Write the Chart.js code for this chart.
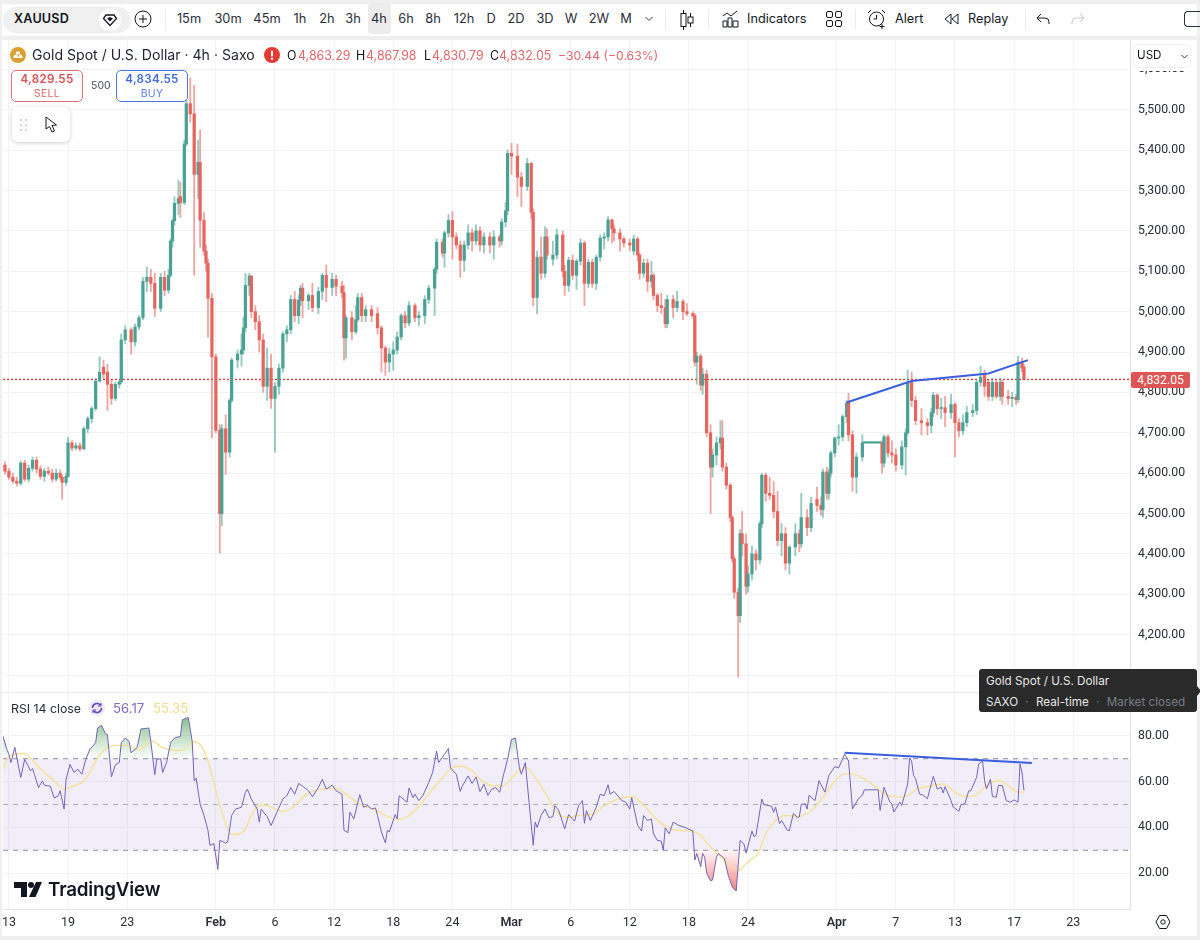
<!DOCTYPE html>
<html><head><meta charset="utf-8">
<script src="https://cdn.jsdelivr.net/npm/chart.js@4"></script>
<style>
html,body{margin:0;padding:0;background:#fff;width:1200px;height:940px;overflow:hidden;font-family:Inter,"Noto Sans",sans-serif;color:#131722}
.a{position:absolute;white-space:nowrap}
.tf{position:absolute;top:11px;font-size:12.8px;line-height:16px;transform:translateX(-50%);color:#2a2e39}
.bar{position:absolute;background:#efefef}
.sep{position:absolute;top:9px;height:21px;width:1px;background:#ececec}
canvas{position:absolute;display:block}
.val{color:#e0696b}
svg{position:absolute;overflow:visible}
</style></head><body>
<canvas id="main" width="1197" height="652" style="left:0;top:40px"></canvas>
<canvas id="rsi" width="1197" height="243" style="left:0;top:693px"></canvas>

<div class="bar" style="left:0;top:0;width:1200px;height:4px"></div>
<div class="bar" style="left:0;top:36px;width:1200px;height:4px"></div>
<div class="bar" style="left:0;top:0;width:2px;height:940px"></div>
<div class="bar" style="left:1197px;top:0;width:3px;height:940px"></div>
<div class="bar" style="left:0;top:936px;width:1200px;height:4px"></div>
<div class="a" style="left:0;top:692px;width:1130px;height:1px;background:#e6e8ee"></div>
<div class="a" style="left:1131px;top:40px;width:66px;height:31px;background:#fff"></div>

<div class="a" style="left:3px;top:7px;width:128px;height:26px;border-radius:13px;background:#f0f0f0"></div>
<div class="a" style="left:14px;top:11px;font-size:12.6px;line-height:16px;font-weight:600;letter-spacing:.2px">XAUUSD</div>
<div class="a" style="left:99px;top:9px;width:22px;height:22px;border-radius:11px;background:#fff"></div>
<svg style="left:103px;top:13px" width="14" height="14" viewBox="0 0 14 14"><path d="M3 2h8l2.5 3.5L7 12.5.5 5.5z" fill="none" stroke="#131722" stroke-width="1.3"/><path d="M4 5.5l3 3 3-3-3-1.5z" fill="#131722"/></svg>
<svg style="left:134px;top:10px" width="18" height="18" viewBox="0 0 18 18"><circle cx="9" cy="9" r="8" fill="none" stroke="#131722"/><path d="M9 5v8M5 9h8" stroke="#131722"/></svg>
<div class="sep" style="left:165px"></div>
<div class="a" style="left:368px;top:3px;width:23px;height:31px;border-radius:4px;background:#ececec"></div>
<div class="tf" style="left:189px">15m</div><div class="tf" style="left:228px">30m</div><div class="tf" style="left:267px">45m</div>
<div class="tf" style="left:300px">1h</div><div class="tf" style="left:327px">2h</div><div class="tf" style="left:353px">3h</div>
<div class="tf" style="left:379px">4h</div><div class="tf" style="left:406px">6h</div><div class="tf" style="left:433px">8h</div>
<div class="tf" style="left:464px">12h</div><div class="tf" style="left:491px">D</div><div class="tf" style="left:516px">2D</div>
<div class="tf" style="left:545px">3D</div><div class="tf" style="left:571px">W</div><div class="tf" style="left:599px">2W</div>
<div class="tf" style="left:626px">M</div>
<svg style="left:645px;top:16px" width="8" height="6" viewBox="0 0 8 6"><path d="M.5 1L4 4.5 7.5 1" fill="none" stroke="#444"/></svg>
<div class="sep" style="left:665px"></div>
<svg style="left:680px;top:10px" width="14" height="20" viewBox="0 0 14 20"><path d="M3.5 0v20M10.5 3v14" stroke="#131722"/><rect x="1" y="3.5" width="5" height="13" fill="#fff" stroke="#131722"/><rect x="8" y="7" width="5" height="6" fill="#fff" stroke="#131722"/></svg>
<div class="sep" style="left:708px"></div>
<svg style="left:722px;top:10px" width="18" height="18" viewBox="0 0 18 18"><path d="M1 6l4-3 4 3 6-5" fill="none" stroke="#131722"/><path d="M1 11h4v6H1zM6 8h4v9H6zM11 11h5v6h-5z" fill="none" stroke="#131722"/></svg>
<div class="a" style="left:747px;top:11px;font-size:12.7px;line-height:16px">Indicators</div>
<svg style="left:826px;top:11px" width="16" height="16" viewBox="0 0 16 16"><rect x=".5" y=".5" width="6" height="6" rx="1.5" fill="none" stroke="#131722"/><rect x="9.5" y=".5" width="6" height="6" rx="1.5" fill="none" stroke="#131722"/><rect x=".5" y="9.5" width="6" height="6" rx="1.5" fill="none" stroke="#131722"/><rect x="9.5" y="9.5" width="6" height="6" rx="1.5" fill="none" stroke="#131722"/></svg>
<div class="sep" style="left:855px"></div>
<svg style="left:867px;top:9px" width="20" height="20" viewBox="0 0 20 20"><circle cx="9.5" cy="10" r="7" fill="none" stroke="#131722"/><path d="M9.5 6v4h-3M1 4l3-3M15 1l3 3M15 15v5M12.5 17.5h5" fill="none" stroke="#131722"/></svg>
<div class="a" style="left:895px;top:11px;font-size:12.7px;line-height:16px">Alert</div>
<svg style="left:944px;top:13px" width="15" height="12" viewBox="0 0 15 12"><path d="M7 1L1 6l6 5zM14 1L8 6l6 5z" fill="none" stroke="#131722"/></svg>
<div class="a" style="left:968px;top:11px;font-size:12.7px;line-height:16px">Replay</div>
<div class="sep" style="left:1025px"></div>
<svg style="left:1036px;top:13px" width="14" height="12" viewBox="0 0 14 12"><path d="M5 1L1 5l4 4M1 5h8a4 4 0 0 1 4 4v2" fill="none" stroke="#131722"/></svg>
<svg style="left:1071px;top:13px" width="14" height="12" viewBox="0 0 14 12"><path d="M9 1l4 4-4 4M13 5H5a4 4 0 0 0-4 4v2" fill="none" stroke="#c4c6cc"/></svg>
<div class="a" style="left:1184px;top:11px;width:16px;height:16px;border:1px solid #2a2e39;border-right:0;border-radius:4px 0 0 4px;box-sizing:border-box"></div>

<svg style="left:10px;top:47px" width="16" height="16" viewBox="0 0 16 16"><circle cx="8" cy="8" r="8" fill="#d9a032"/><path d="M3 11l1.2-3h3l1.2 3zM8 11l1.2-3h2.6L13 11zM5.500 7.500l1-3h3l1 3z" fill="#fff"/></svg>
<div class="a" style="left:32px;top:46px;font-size:14.1px;line-height:18px;color:#1f2330">Gold Spot / U.S. Dollar · 4h · Saxo</div>
<svg style="left:264px;top:47px" width="16" height="16" viewBox="0 0 16 16"><circle cx="8" cy="8" r="8" fill="#e53935"/><rect x="7" y="3.500" width="2" height="6" rx="1" fill="#fff"/><circle cx="8" cy="11.800" r="1.200" fill="#fff"/></svg>
<div class="a" style="left:287px;top:48px;font-size:12.4px;line-height:15px">O</div><div class="a val" style="left:298px;top:48px;font-size:12.4px;line-height:15px">4,863.29</div>
<div class="a" style="left:356px;top:48px;font-size:12.4px;line-height:15px">H</div><div class="a val" style="left:366px;top:48px;font-size:12.4px;line-height:15px">4,867.98</div>
<div class="a" style="left:424px;top:48px;font-size:12.4px;line-height:15px">L</div><div class="a val" style="left:432px;top:48px;font-size:12.4px;line-height:15px">4,830.79</div>
<div class="a" style="left:490px;top:48px;font-size:12.4px;line-height:15px">C</div><div class="a val" style="left:499px;top:48px;font-size:12.4px;line-height:15px">4,832.05</div>
<div class="a val" style="left:558px;top:48px;font-size:12.2px;line-height:15px">−30.44 (−0.63%)</div>

<div class="a" style="left:11px;top:70px;width:72px;height:32px;box-sizing:border-box;border:1px solid #d9727a;border-radius:5px;background:#fff;text-align:center;color:#d4545c">
 <div style="font-size:11.6px;line-height:15px;font-weight:600;margin-top:1px;letter-spacing:.3px">4,829.55</div><div style="font-size:10.500px;line-height:13px;color:#dc6f74;letter-spacing:.3px">SELL</div></div>
<div class="a" style="left:91px;top:79px;font-size:10.500px;line-height:14px;color:#4a4e59">500</div>
<div class="a" style="left:116px;top:70px;width:72px;height:32px;box-sizing:border-box;border:1px solid #4f74dc;border-radius:5px;background:rgba(255,255,255,.9);text-align:center;color:#4369d8">
 <div style="font-size:11.6px;line-height:15px;font-weight:600;margin-top:1px;letter-spacing:.3px">4,834.55</div><div style="font-size:10.500px;line-height:13px;color:#5f82df;letter-spacing:.3px">BUY</div></div>
<div class="a" style="left:12px;top:107px;width:58px;height:35px;background:#fff;border-radius:6px;box-shadow:0 1px 4px rgba(0,0,0,.2)"></div>
<svg style="left:20px;top:119px" width="8" height="12" viewBox="0 0 8 12"><g fill="#c4c6cc"><circle cx="1" cy="1" r="1"/><circle cx="6" cy="1" r="1"/><circle cx="1" cy="6" r="1"/><circle cx="6" cy="6" r="1"/><circle cx="1" cy="11" r="1"/><circle cx="6" cy="11" r="1"/></g></svg>
<svg style="left:45px;top:116px" width="13" height="18" viewBox="0 0 13 18"><path d="M1 1l0 12 3.500-2.500 2.500 5.500 2.500-1-2.500-5.500 4.500-.5z" fill="#fff" stroke="#131722"/></svg>

<div class="a" style="left:1133px;top:44px;width:58px;height:24px;box-sizing:border-box;background:#fff;border:1px solid #f0f0f3;border-radius:4px"></div>
<div class="a" style="left:1137px;top:48px;font-size:11.6px;line-height:15px">USD</div>
<svg style="left:1181px;top:54px" width="7" height="5" viewBox="0 0 7 5"><path d="M.5 1L3.500 4 6.500 1" fill="none" stroke="#333"/></svg>

<div class="a" style="left:1131px;top:372px;width:59px;height:16px;background:#dd5555;border-radius:2px;color:#fff;font-family:Roboto;font-size:12.2px;line-height:16px;text-align:center">4,832.05</div>

<div class="a" style="left:979px;top:669px;width:218px;height:43px;background:#2a2a2a;border-radius:3px"></div>
<svg style="left:1197px;top:686px" width="4" height="10" viewBox="0 0 4 10"><path d="M0 0l4 5-4 5z" fill="#2a2a2a"/></svg>
<div class="a" style="left:986px;top:673px;font-size:11.7px;line-height:16px;color:#e6e6e6">Gold Spot / U.S. Dollar</div>
<div class="a" style="left:986px;top:694px;font-size:11.7px;line-height:16px;color:#e6e6e6">SAXO <span style="color:#787b86;margin:0 4px">·</span> Real-time <span style="color:#787b86;margin:0 4px">·</span> <span style="color:#787b86">Market closed</span></div>

<div class="a" style="left:11px;top:701px;font-size:12.3px;line-height:15px;color:#2a2e39">RSI 14 close</div>
<svg style="left:89px;top:700px" width="16" height="16" viewBox="0 0 16 16"><circle cx="8" cy="8" r="8" fill="#ede7f6"/><path d="M3.500 8a4.500 4.500 0 0 1 8-2.800M12.500 8a4.500 4.500 0 0 1-8 2.800" fill="none" stroke="#5c48b8" stroke-width="1.500"/><path d="M12 3v3h-3M4 13v-3h3" fill="none" stroke="#5c48b8"/></svg>
<div class="a" style="left:113px;top:701px;font-size:13.2px;line-height:15px;color:#7e6cc0">56.17</div>
<div class="a" style="left:153px;top:701px;font-size:13.2px;line-height:15px;color:#f3dc8e">55.35</div>

<svg style="left:14px;top:882px" width="28" height="15" viewBox="0 0 28 15"><path d="M0 0h13v15H7V6H0z" fill="#131722"/><circle cx="17" cy="3" r="3" fill="#131722"/><path d="M22 0h6l-6.500 15h-6.500z" fill="#131722"/></svg>
<div class="a" style="left:48px;top:876px;font-size:18.8px;line-height:28px;font-weight:600;letter-spacing:-.2px;color:#131722;font-family:Inter">TradingView</div>

<svg style="left:1155px;top:914px" width="16" height="16" viewBox="0 0 16 16"><path d="M4.500 1.500h7L15 8l-3.500 6.500h-7L1 8z" fill="none" stroke="#131722"/><circle cx="8" cy="8" r="2.200" fill="none" stroke="#131722"/></svg>

<script>
const barNums=[1,3,5,7,9,11,13,15,17,19,21,23,25,27,29,30,32,33,35,37,
39,41,43,45,47,49,51,53,55,57,59,60,62,65,67,69,71,73,75,77,
80,82,84,85,86,87,89,90,92,93,95,97,99,100,102,103,104,106,108,110,
111,113,115,116,119,121,122,123,125,126,128,130,132,134,136,138,140,142,144,146,
148,150,151,152,155,157,160,162,164,167,169,172,173,174,177,179,180,182,184,187,
190,192,194,196,198,200,202,204,206,209,211,214,216,219,220,223,224,226,228,230,
232,234,236,238,240,242,244,247,249,252,253,255,256,258,261,263,266,268,269,271,
273,275,276,279,281,284,285,287,289,291,293,295,297,299,301,303,305,307,309,310,
313,315,318,320,322,323,325,327,329,330,332,334,336,337,340,342,345,347,350,351,
352,354,355,357,359,360,362,364,365,367,369,370,371,373,374,375,377,378,380,382,
384,385,387,389,391,393,395,397,399,402,404,405,408,410,413,415,416,418,419,420,
422,424,426,428,429,431,433,436,437,438,439,440,441,442,443,444,445,446,447,449,451,453,456,458,459,461,
463,466,469,471,472,474,476,478,481,483,485,487,489,492,494,496,498,500,502,504,
506,507,510,512,514,515,517,518];
const opens=[4620,4605,4590,4580,4575,4625,4585,4612,4632,4610,4592,4605,4600,4585,4600,4590,4577,4592,4675,4662,
4668,4660,4710,4735,4760,4828,4862,4850,4820,4785,4820,4826,4930,4955,4925,4962,4985,5075,5085,5070,
5008,5085,5053,5090,5175,5225,5268,5285,5270,5415,5515,5490,5340,5370,5226,5150,5120,5033,4888,4706,
4500,4710,4652,4780,4880,4895,4905,4960,5065,5088,5000,4975,4930,4815,4860,4785,4815,4860,4945,4955,
5030,4990,5028,5058,5027,5040,5010,5050,5090,5060,5080,5063,5047,4935,4985,4950,4980,5035,4990,5005,
4995,4960,4910,4875,4895,4905,4937,4990,4972,5015,4985,4990,5030,5058,5105,5172,5145,5195,5226,5185,
5165,5127,5165,5195,5175,5200,5165,5185,5165,5185,5175,5222,5250,5392,5385,5333,5310,5367,5246,5035,
5135,5095,5185,5130,5140,5190,5100,5065,5127,5090,5125,5170,5070,5122,5070,5135,5182,5185,5227,5205,
5195,5180,5170,5150,5180,5140,5095,5120,5075,5090,5040,5015,5010,4970,5030,5010,5025,5000,4995,4990,
4875,4890,4818,4845,4700,4615,4645,4675,4687,4615,4570,4490,4388,4305,4247,4450,4425,4320,4350,4400,
4385,4475,4595,4550,4545,4505,4433,4450,4377,4417,4450,4425,4490,4465,4535,4520,4510,4603,4550,4600,
4650,4687,4690,4740,4778,4695,4590,4640,4675,4675,4675,4675,4675,4675,4675,4675,4675,4675,4625,4690,4650,4645,4620,4665,4700,4825,
4780,4730,4725,4718,4750,4793,4760,4762,4750,4770,4725,4705,4725,4750,4755,4825,4845,4825,4790,4825,
4790,4825,4790,4785,4788,4782,4875,4863];
const highs=[4628,4612,4600,4590,4630,4632,4620,4640,4640,4618,4612,4615,4610,4610,4608,4595,4600,4688,4680,4675,
4675,4715,4740,4765,4835,4888,4880,4870,4830,4825,4830,4945,4965,4960,4970,4990,5085,5110,5105,5095,
5095,5100,5105,5180,5230,5285,5325,5320,5425,5525,5578,5560,5425,5450,5245,5165,5130,5045,4895,4720,
4720,4745,4785,4885,4905,4945,4986,5095,5095,5090,5015,4990,4945,4910,4895,4825,4870,4950,4965,5040,
5050,5040,5065,5070,5045,5070,5060,5095,5115,5095,5090,5075,5065,4990,5000,5015,5045,5045,5015,5015,
5010,4965,4915,4910,4925,4950,4995,5000,5025,5020,5000,5040,5065,5110,5180,5180,5200,5240,5248,5195,
5175,5175,5215,5205,5215,5210,5195,5195,5200,5190,5230,5270,5400,5417,5415,5345,5380,5370,5255,5150,
5185,5210,5205,5175,5205,5200,5115,5135,5140,5130,5180,5175,5130,5130,5140,5190,5195,5235,5230,5215,
5205,5185,5180,5190,5185,5145,5130,5130,5125,5095,5045,5045,5030,5040,5040,5050,5030,5020,5000,4995,
4900,4895,4860,4855,4720,4660,4690,4730,4730,4625,4575,4495,4395,4315,4460,4505,4450,4370,4420,4410,
4480,4600,4600,4590,4580,4555,4475,4465,4420,4475,4460,4550,4510,4540,4565,4540,4610,4615,4610,4655,
4690,4720,4745,4780,4798,4705,4650,4695,4677,4677,4677,4677,4677,4677,4677,4677,4677,4680,4695,4695,4680,4660,4680,4710,4855,4850,
4790,4760,4735,4760,4800,4797,4785,4790,4795,4775,4735,4745,4765,4770,4830,4865,4855,4830,4835,4830,
4835,4830,4805,4800,4795,4890,4885,4868];
const lows=[4598,4585,4575,4568,4570,4580,4578,4605,4600,4585,4580,4595,4578,4580,4585,4535,4570,4590,4655,4658,
4655,4658,4700,4725,4755,4825,4835,4755,4770,4780,4810,4822,4920,4895,4915,4955,4980,5050,5050,4988,
5000,5040,5045,5085,5160,5215,5240,5233,5265,5410,5470,5090,5280,5160,5140,5100,4937,4687,4700,4402,
4470,4597,4640,4775,4860,4865,4895,4950,5040,4985,4955,4900,4800,4780,4760,4652,4795,4850,4925,4945,
4975,4970,5015,4985,5005,5000,4995,5030,5025,5040,5040,5035,4880,4885,4930,4945,4975,4975,4975,4975,
4945,4850,4842,4850,4855,4895,4930,4960,4965,4975,4965,4970,5020,4990,5095,5135,5110,5185,5130,5155,
5085,5100,5155,5150,5165,5150,5145,5145,5130,5160,5165,5210,5240,5340,5285,5260,5300,5230,5015,4995,
5080,5085,5130,5115,5130,5085,5040,5050,5080,5055,5115,5015,5060,5060,5055,5125,5155,5175,5170,5175,
5150,5160,5150,5140,5125,5080,5085,5050,5060,5030,5000,4995,4960,4960,4985,5000,4980,4990,4985,4865,
4820,4805,4795,4690,4500,4590,4620,4660,4605,4560,4480,4380,4290,4095,4230,4395,4300,4305,4335,4360,
4375,4465,4530,4535,4490,4420,4395,4360,4350,4395,4405,4415,4445,4455,4505,4495,4490,4535,4535,4590,
4640,4670,4680,4725,4680,4555,4550,4630,4674,4674,4674,4674,4674,4674,4674,4674,4674,4600,4615,4640,4625,4605,4610,4595,4695,4765,
4720,4695,4695,4700,4740,4745,4735,4715,4735,4640,4690,4695,4715,4740,4745,4815,4790,4780,4780,4785,
4780,4770,4770,4765,4770,4775,4850,4831];
const closes=[4605,4590,4580,4575,4625,4585,4612,4632,4610,4592,4605,4600,4585,4600,4590,4577,4592,4675,4662,4668,
4660,4710,4735,4760,4828,4850,4845,4820,4785,4820,4826,4930,4955,4925,4962,4985,5075,5085,5070,5008,
5085,5053,5090,5175,5225,5268,5280,5270,5415,5515,5490,5340,5370,5226,5150,5120,5033,4888,4706,4500,
4710,4652,4780,4880,4895,4905,4960,5065,5088,5000,4975,4930,4815,4860,4785,4815,4860,4945,4955,5030,
4990,5028,5058,5027,5040,5010,5050,5090,5060,5080,5063,5047,4935,4985,4950,4980,5035,4990,5005,4990,
4960,4910,4875,4895,4905,4937,4990,4972,5015,4985,4990,5030,5058,5105,5172,5145,5195,5226,5185,5165,
5127,5165,5195,5175,5200,5165,5185,5165,5185,5175,5222,5250,5392,5385,5333,5310,5367,5246,5035,5135,
5095,5185,5140,5140,5190,5100,5065,5127,5090,5125,5170,5070,5122,5070,5135,5182,5185,5227,5205,5195,
5180,5170,5165,5180,5140,5095,5120,5075,5090,5040,5015,5010,4970,5030,5010,5025,5000,4995,4990,4875,
4890,4818,4845,4700,4615,4645,4675,4687,4615,4570,4490,4388,4305,4247,4450,4425,4320,4350,4400,4385,
4475,4595,4550,4545,4505,4433,4450,4377,4417,4450,4425,4490,4465,4525,4520,4510,4603,4550,4600,4650,
4687,4690,4740,4773,4695,4590,4640,4675,4675,4675,4675,4675,4675,4675,4675,4675,4675,4625,4690,4650,4645,4620,4665,4700,4825,4780,
4730,4725,4718,4750,4793,4760,4762,4750,4770,4725,4705,4725,4750,4755,4825,4838,4815,4790,4825,4790,
4825,4790,4785,4788,4782,4875,4860,4832.05];
const rsiBars=[0,2,3,4,6,9,11,14,15,16,
18,20,21,24,26,28,29,31,32,34,
36,38,40,42,44,47,48,50,52,53,
55,57,59,60,62,64,65,68,70,74,
75,77,78,80,81,83,85,87,90,91,
94,96,97,98,100,102,104,105,107,109,
110,113,114,116,118,121,123,124,126,129,
130,131,134,136,139,142,144,146,148,150,
152,155,157,160,162,164,167,169,172,173,
175,176,178,181,183,185,187,189,190,192,
194,195,196,199,200,201,205,206,208,209,
211,213,216,218,220,221,224,226,227,230,
232,233,236,238,240,242,244,246,248,250,
252,254,256,258,260,262,263,265,267,269,
270,271,273,275,277,279,280,282,285,287,
290,292,294,295,296,298,301,303,305,307,
308,310,314,316,318,319,322,324,325,327,
329,330,332,334,335,336,338,340,343,346,
350,351,352,354,355,356,357,359,360,362,
363,366,368,370,372,374,376,377,380,381,
382,385,386,390,391,392,394,395,398,399,
401,403,404,405,407,408,409,412,414,417,
419,422,424,427,429,431,434,436,437,444,
445,447,450,451,452,455,456,459,460,461,
462,463,465,467,469,472,474,476,477,478,
481,482,485,486,488,490,491,494,495,497,
498,499,501,502,504,505,507,509,511,513,
515,516,517,518];
const rsiValues=[79.8,74,71.9,68.3,75,61.8,69.7,64.7,65.7,63,
57.4,60.3,58.4,58,52.8,53.8,56,48,61,67.5,
64,65.4,63.2,69.7,74,77,83.4,84.6,80.8,80.5,
62,67.3,68.3,77,79,77.6,72.6,74.8,83,83.4,
77.6,63,69.7,70,64,68.3,77,79,79.8,87,
88,77.6,60.3,61.5,50.2,45.2,38.7,32.2,32.9,21.6,
34.3,33.2,33.6,45.2,48,48.8,55.3,56.7,52.4,48,
42.3,48,44.7,40.8,46.6,52.4,53.8,57.4,54.5,59.2,
58,56,53.4,57.4,61,56.7,58.4,56,54.5,38.7,
37.7,46.6,43.7,54.3,48.8,49.5,48,48.5,45.2,38,
33.2,38.7,38,45.6,43.7,53.8,51,57.2,53,54.5,
51.7,53.8,59.6,64,73.3,68.3,71.9,74.5,66,63.2,
55.7,58,62.5,59.2,62,55.6,58.9,54,56.7,57.4,
55.3,63.2,69.7,78.4,79,66,63.2,68.3,50.2,32.2,
42.3,40,45.2,48,44.2,44.7,49.5,47.3,39.4,45.6,
42.7,49.5,51.7,41.8,47.3,43,48.8,54.5,53.8,58.6,
54.5,55.7,51.7,51,48,53,40.8,38.4,45.2,43,
43.7,37.2,34.3,34,30,39.8,37.2,42.3,40.8,40,
38.4,25.7,28.6,22.8,28.6,27,20,16.7,17,27,
28.6,26.4,19,14,12.2,34.3,32.6,28.8,38.4,36,
36.5,52.4,50,49.2,46.6,48.8,41.6,43,38.7,38.7,
46,44.4,44.5,50,50.3,48,54,51.7,60.4,55.4,
62.6,66.5,66,72,69,48,52.5,54,56.4,56.4,
47.4,57.5,51,50.3,46.7,51,49.6,59,70.3,69,
62.6,61.2,54.6,54,52.5,62.3,56.8,57.5,55,57.8,
51.7,49,47,50,50.3,56,56,61.9,67.7,69,
60.4,56.8,61,53.5,53.2,58.3,58.3,51.7,51,52,
51,67.7,64,56.17];
const maBars=[0,2,5,11,15,20,26,31,36,41,44,48,53,58,64,69,75,81,88,92,
96,100,104,108,113,116,119,123,126,131,137,142,147,154,161,169,174,181,188,196,
201,206,212,218,223,228,232,238,243,249,254,259,265,270,276,281,286,292,299,304,
311,319,326,333,340,348,353,359,366,373,378,383,387,392,397,404,409,414,419,424,
429,436,442,447,455,459,464,472,477,483,488,493,499,505,510,515,518];
const maValues=[65.4,69.7,71.9,72.3,69.3,64.7,60.3,56.7,58.2,60.3,63.9,70.4,74.8,75.8,75.5,73.8,77.9,74.8,73.6,74,
77.4,76.2,69,56,41.6,37,37,39.4,45.2,50,48.5,47,48.8,54.5,56.7,57.1,54.5,50.2,48,44.4,
43.5,45.2,50.2,56.7,61.8,66.1,66.8,64.7,60.3,58.2,58.2,62.5,66.4,61.8,53.8,46.6,44.4,45.2,45.6,48.8,
52,53.4,48.8,42.3,39,38.4,37.2,31.4,25.7,21.3,25,28.6,37.2,43,45.2,44.8,46.7,51,56.8,61.9,
63.6,61.6,58.3,54.6,53.2,53.9,56.8,58.3,59,55.4,53.5,53.9,58.3,60.4,58.3,55.4,55.35];
const tickBars=[3,33,63,108,138,168,198,228,258,288,318,348,378,423,453,483,513,543];
const tickLabels=['13','19','23','Feb','6','12','18','24','Mar','6','12','18','24','Apr','7','13','17','23'];
const monthLabels=['Feb','Mar','Apr'];
const priceTicks=[4100,4200,4300,4400,4500,4600,4700,4800,4900,5000,5100,5200,5300,5400,5500,5600];
const priceTrendBars=[428,461,500,520];
const priceTrendValues=[4775,4828,4847,4880];
const rsiTrendBars=[427,522];
const rsiTrendValues=[72.6,68.1];
const rsiTicks=[20,40,60,80];
const lastPrice=4832.05;
const barRange=[0,571.8];
const priceRange=[4058,5672.7];
const rsiRange=[4.35,98.26];

const GREEN='#4ba294',RED='#e4665f',GREENW='rgba(63,157,141,.55)',REDW='rgba(226,91,86,.55)',GRID='#f2f3f7',AXIS='#e0e3eb';
const FONT='Roboto';
const zip=(xs,ys)=>xs.map((x,i)=>({x,y:ys[i]}));
const up=closes.map((c,i)=>c>=opens[i]);
const fitY=s=>{s.width=67;s.paddingTop=0;s.paddingBottom=0;};
const setTicks=a=>{a.ticks=tickBars.map(v=>({value:v}));};

new Chart(document.getElementById('main'),{
 type:'bar',
 data:{datasets:[
  {type:'line',data:[{x:barRange[0],y:lastPrice},{x:barRange[1],y:lastPrice}],borderColor:'#f03a3a',borderWidth:1.4,borderDash:[2,2],pointRadius:0,order:5},
  {data:barNums.map((b,i)=>({x:b,y:[lows[i],highs[i]]})),backgroundColor:up.map(u=>u?GREENW:REDW),barThickness:1.2,grouped:false,order:4},
  {data:barNums.map((b,i)=>({x:b,y:[opens[i],closes[i]]})),backgroundColor:up.map(u=>u?GREEN:RED),barThickness:2.6,minBarLength:1,grouped:false,order:3},
  {type:'line',data:zip(priceTrendBars,priceTrendValues),borderColor:'#3a5fdc',borderWidth:2,pointRadius:0,order:1}
 ]},
 options:{responsive:false,animation:false,layout:{padding:{left:3}},
  plugins:{legend:{display:false},tooltip:{enabled:false}},
  scales:{
   x:{type:'linear',offset:false,min:barRange[0],max:barRange[1],afterBuildTicks:setTicks,
      grid:{color:GRID,offset:false,drawTicks:false},border:{display:false},ticks:{display:false,autoSkip:false},
      afterFit:s=>{s.height=0;s.paddingLeft=0;s.paddingRight=0;}},
   y:{position:'right',min:priceRange[0],max:priceRange[1],
      afterBuildTicks:a=>{a.ticks=priceTicks.map(v=>({value:v}));},afterFit:fitY,
      grid:{color:GRID,drawTicks:false},border:{color:AXIS},
      ticks:{padding:8,color:'#2a2e39',font:{family:FONT,size:12.3},autoSkip:false,
        callback:v=>v===4100?'':v.toLocaleString('en-US',{minimumFractionDigits:2})}}
  }}
});

const rsiChart=new Chart(document.getElementById('rsi'),{
 type:'line',
 data:{datasets:[
  {data:[{x:barRange[0],y:70},{x:barRange[1],y:70}],borderColor:'#8f8ca0',borderWidth:1,borderDash:[5,5],pointRadius:0,fill:{target:{value:30},above:'rgba(126,87,194,.1)',below:'rgba(0,0,0,0)'},order:9},
  {data:[{x:barRange[0],y:50},{x:barRange[1],y:50}],borderColor:'#aeacb8',borderWidth:1,borderDash:[5,5],pointRadius:0,order:8},
  {data:[{x:barRange[0],y:30},{x:barRange[1],y:30}],borderColor:'#8f8ca0',borderWidth:1,borderDash:[5,5],pointRadius:0,order:7},
  {data:zip(rsiBars,rsiValues),borderWidth:0,pointRadius:0,order:6,fill:false},
  {data:zip(rsiBars,rsiValues),borderWidth:0,pointRadius:0,order:5,fill:false},
  {data:zip(maBars,maValues),borderColor:'#f4e19a',borderWidth:1.4,pointRadius:0,tension:.4,cubicInterpolationMode:'monotone',order:3},
  {data:zip(rsiBars,rsiValues),borderColor:'#7263b8',borderWidth:1,pointRadius:0,order:2},
  {data:zip(rsiTrendBars,rsiTrendValues),borderColor:'#3a5fdc',borderWidth:2,pointRadius:0,order:1}
 ]},
 options:{responsive:false,animation:false,layout:{padding:{left:3}},
  plugins:{legend:{display:false},tooltip:{enabled:false}},
  scales:{
   x:{type:'linear',offset:false,min:barRange[0],max:barRange[1],afterBuildTicks:setTicks,
      afterFit:s=>{s.height=27;s.paddingLeft=0;s.paddingRight=0;},
      grid:{color:GRID,drawTicks:false},border:{color:AXIS},
      ticks:{autoSkip:false,maxRotation:0,padding:6,color:'#2a2e39',
        callback:v=>tickLabels[tickBars.indexOf(v)],
        font:c=>({family:FONT,size:12.5,weight:monthLabels.includes(tickLabels[c.index])?'600':'400'})}},
   y:{position:'right',min:rsiRange[0],max:rsiRange[1],
      afterBuildTicks:a=>{a.ticks=rsiTicks.map(v=>({value:v}));},afterFit:fitY,
      grid:{color:GRID,drawTicks:false},border:{color:AXIS},
      ticks:{padding:8,color:'#2a2e39',font:{family:FONT,size:12.3},autoSkip:false,callback:v=>v.toFixed(2)}}
  }}
});
const yS=rsiChart.scales.y,ctx=rsiChart.ctx;
const gUp=ctx.createLinearGradient(0,yS.getPixelForValue(88),0,yS.getPixelForValue(70));
gUp.addColorStop(0,'rgba(56,142,60,.6)');gUp.addColorStop(1,'rgba(76,175,80,.03)');
const gDn=ctx.createLinearGradient(0,yS.getPixelForValue(30),0,yS.getPixelForValue(12));
gDn.addColorStop(0,'rgba(255,82,82,.05)');gDn.addColorStop(1,'rgba(230,60,60,.65)');
rsiChart.data.datasets[3].fill={target:{value:70},above:gUp,below:'rgba(0,0,0,0)'};
rsiChart.data.datasets[4].fill={target:{value:30},above:'rgba(0,0,0,0)',below:gDn};
rsiChart.update('none');
</script>
</body></html>
